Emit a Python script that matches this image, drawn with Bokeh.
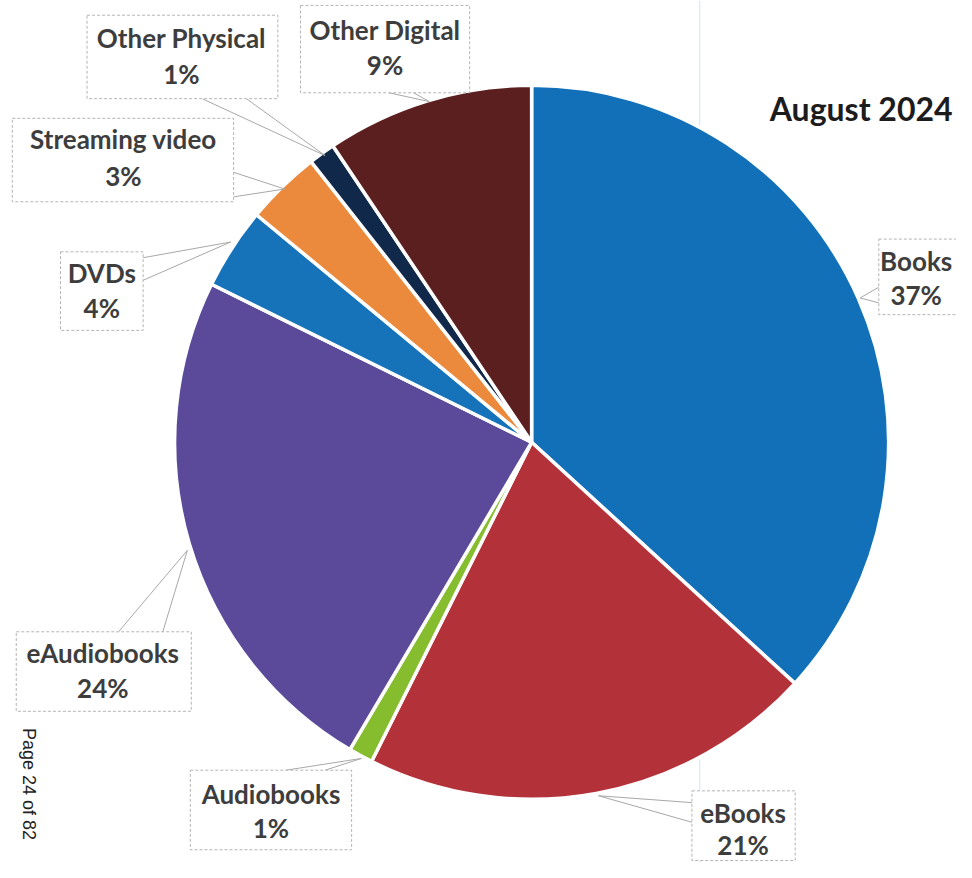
import math
from bokeh.plotting import figure
from bokeh.models import Range1d
from bokeh.core.properties import value
from bokeh.embed import file_html
from bokeh.resources import INLINE

# ---- data ----
categories = ["Books", "eBooks", "Audiobooks", "eAudiobooks", "DVDs",
              "Streaming video", "Other Physical", "Other Digital"]
shares = [36.8, 20.6, 1.1, 23.8, 3.7, 3.4, 1.2, 9.4]
pct_labels = ["37%", "21%", "1%", "24%", "4%", "3%", "1%", "9%"]
title_text = "August 2024"
page_text = "Page 24 of 82"

# ---- styles ----
colors = ["#1170b8", "#b3323a", "#86bd2e", "#5b4a99", "#1673ba",
          "#eb8a3c", "#10294b", "#5a1f1e"]

# reference-pixel helpers (centre of pie at (540, 450))
CX, CY, R = 540, 450, 363
def X(px):
    return px - CX
def Y(py):
    return CY - py

layout = {
    "Books":           dict(box=(893, 243, 985, 320), tx=931, t1=265, t2=300,
                            base=[(893, 292), (893, 308)], tip=(874, 303)),
    "eBooks":          dict(box=(703, 805, 808, 876), tx=755, t1=828, t2=860,
                            base=[(703, 817), (703, 837)], tip=(608, 810)),
    "Audiobooks":      dict(box=(193, 784, 357, 865), tx=275, t1=808, t2=843,
                            base=[(290, 784), (330, 784)], tip=(367, 772)),
    "eAudiobooks":     dict(box=(16, 643, 194, 724), tx=104, t1=665, t2=700,
                            base=[(120, 643), (165, 643)], tip=(190, 560)),
    "DVDs":            dict(box=(61, 256, 145, 336), tx=103, t1=278, t2=313,
                            base=[(145, 262), (145, 285)], tip=(234, 246)),
    "Streaming video": dict(box=(12, 120, 237, 205), tx=125, t1=141, t2=179,
                            base=[(237, 175), (237, 200)], tip=(289, 192)),
    "Other Physical":  dict(box=(88, 15, 282, 100), tx=184, t1=38, t2=75,
                            base=[(205, 100), (250, 100)], tip=(330, 158)),
    "Other Digital":   dict(box=(305, 5, 477, 94), tx=391, t1=30, t2=66,
                            base=[(395, 94), (420, 94)], tip=(436, 103)),
}

W, H = 956, 862
p = figure(width=W, height=H, output_backend="svg", toolbar_location=None,
           x_range=Range1d(X(0), X(972)), y_range=Range1d(Y(878), Y(0)),
           min_border=0)
p.axis.visible = False
p.xgrid.visible = False
p.ygrid.visible = False
p.outline_line_color = None
p.background_fill_color = "white"

# faint scan line
p.line([X(711), X(711)], [Y(0), Y(900)], line_color="#d3e5f2", line_width=1)

# pie wedges (clockwise from 12 o'clock)
total = sum(shares)
cum = 0.0
starts, ends = [], []
for s in shares:
    c0 = cum / total
    cum += s
    c1 = cum / total
    starts.append(math.pi / 2 - 2 * math.pi * c1)
    ends.append(math.pi / 2 - 2 * math.pi * c0)

p.wedge(x=[0] * len(shares), y=[0] * len(shares), radius=R,
        start_angle=starts, end_angle=ends, direction="anticlock",
        fill_color=colors, line_color="white", line_width=3.5)

# label boxes, leaders, texts
bx, by, bw, bh = [], [], [], []
lx, ly = [], []
tx, ty, tt = [], [], []
for name, pct in zip(categories, pct_labels):
    L = layout[name]
    x0, y0, x1, y1 = L["box"]
    bx.append(X((x0 + x1) / 2)); by.append(Y((y0 + y1) / 2))
    bw.append(x1 - x0); bh.append(y1 - y0)
    for (qx, qy) in L["base"]:
        lx.append([X(qx), X(L["tip"][0])]); ly.append([Y(qy), Y(L["tip"][1])])
    tx += [X(L["tx"]), X(L["tx"])]
    ty += [Y(L["t1"]), Y(L["t2"])]
    tt += [name, pct]

p.multi_line(lx, ly, line_color="#a8a8a8", line_width=1)
p.rect(x=bx, y=by, width=bw, height=bh, fill_color="white",
       line_color="#b4b4b4", line_width=1, line_dash="3 2")
p.text(x=tx, y=ty, text=tt, text_font=value("Lato"), text_font_style="bold",
       text_font_size="26px", text_color="#3d3d3d", text_align="center",
       text_baseline="middle")

# title
p.text(x=[X(968)], y=[Y(110)], text=[title_text], text_font=value("Lato"),
       text_font_style="bold", text_font_size="32px", text_color="#1c1c1c",
       text_align="right", text_baseline="middle")

# page number (rotated)
p.text(x=[X(29)], y=[Y(798)], text=[page_text], angle=-math.pi / 2,
       text_font=value("Liberation Sans"), text_font_size="18px",
       text_color="#222222", text_align="center", text_baseline="middle")

open("out.html", "w").write(file_html(p, INLINE))
